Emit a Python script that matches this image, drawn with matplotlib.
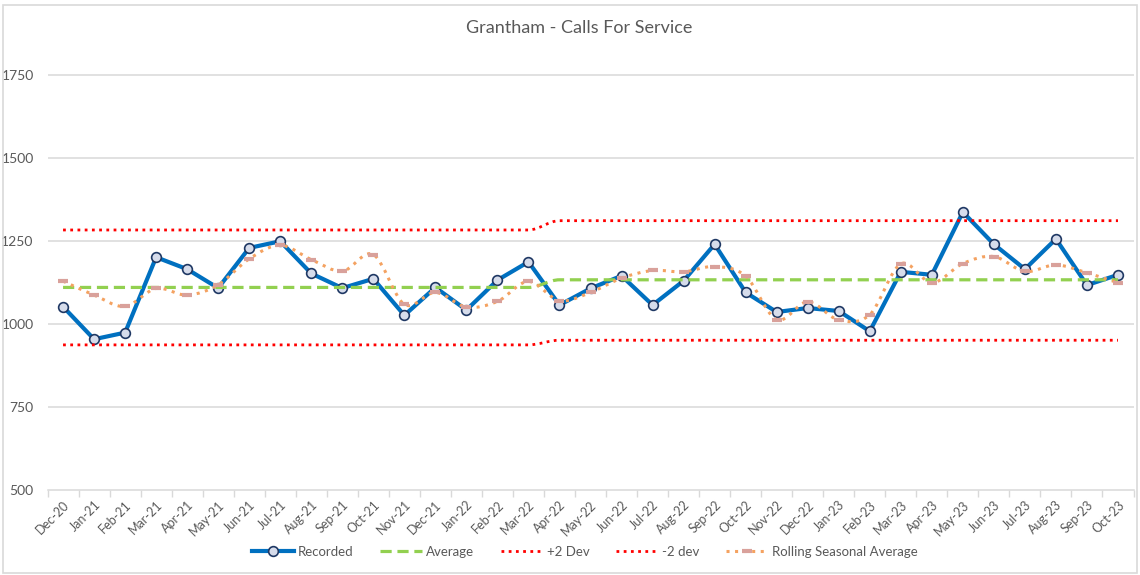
import matplotlib
matplotlib.use("Agg")
import matplotlib.pyplot as plt
import numpy as np
from matplotlib.path import Path
from matplotlib.patches import PathPatch, Rectangle
from matplotlib.lines import Line2D

plt.rcParams['font.family'] = ['Lato', 'DejaVu Sans']

months = ["Dec-20", "Jan-21", "Feb-21", "Mar-21", "Apr-21", "May-21", "Jun-21", "Jul-21",
          "Aug-21", "Sep-21", "Oct-21", "Nov-21", "Dec-21", "Jan-22", "Feb-22", "Mar-22",
          "Apr-22", "May-22", "Jun-22", "Jul-22", "Aug-22", "Sep-22", "Oct-22", "Nov-22",
          "Dec-22", "Jan-23", "Feb-23", "Mar-23", "Apr-23", "May-23", "Jun-23", "Jul-23",
          "Aug-23", "Sep-23", "Oct-23"]

recorded = [1052, 954, 974, 1201, 1165, 1108, 1229, 1249, 1152, 1108, 1136, 1026,
            1110, 1042, 1132, 1187, 1057, 1107, 1145, 1057, 1130, 1240, 1095, 1036,
            1048, 1039, 978, 1157, 1148, 1337, 1240, 1165, 1256, 1117, 1148]

average = [1110] * 16 + [1133] * 19
plus2 = [1283] * 16 + [1311] * 19
minus2 = [937] * 16 + [951] * 19

rolling = [1129, 1087, 1053, 1107, 1087, 1118, 1196, 1237, 1194, 1159, 1209, 1059,
           1095, 1051, 1068, 1128, 1070, 1095, 1138, 1161, 1157, 1173, 1144, 1013,
           1067, 1012, 1028, 1181, 1124, 1182, 1203, 1158, 1178, 1154, 1124]

yticks = [500, 750, 1000, 1250, 1500, 1750]


def smooth_path(xs, ys, monotone=False):
    xs = np.asarray(xs, float)
    ys = np.asarray(ys, float)
    n = len(xs)
    # tangents (per unit x)
    m = np.zeros(n)
    for i in range(n):
        a = max(i - 1, 0)
        b = min(i + 1, n - 1)
        m[i] = (ys[b] - ys[a]) / (xs[b] - xs[a])
        if monotone and 0 < i < n - 1:
            d0 = ys[i] - ys[i - 1]
            d1 = ys[i + 1] - ys[i]
            if d0 * d1 <= 0:
                m[i] = 0.0
    verts = [(xs[0], ys[0])]
    codes = [Path.MOVETO]
    for i in range(n - 1):
        h = xs[i + 1] - xs[i]
        c1 = (xs[i] + h / 3, ys[i] + m[i] * h / 3)
        c2 = (xs[i + 1] - h / 3, ys[i + 1] - m[i + 1] * h / 3)
        verts += [c1, c2, (xs[i + 1], ys[i + 1])]
        codes += [Path.CURVE4] * 3
    return Path(verts, codes)


fig = plt.figure(figsize=(11.4, 5.75), dpi=100)
fig.patches.append(Rectangle((0.003, 0.004), 0.994, 0.988, transform=fig.transFigure,
                             fill=False, edgecolor='#d9d9d9', linewidth=1.2))
ax = fig.add_axes([0.0417, 0.1478, 0.9526, 0.7826])

x = np.arange(len(months))
ax.set_xlim(-0.5, len(months) - 0.5)
ax.set_ylim(500, 1855)

for yt in yticks[1:]:
    ax.axhline(yt, color='#d9d9d9', linewidth=1.1, zorder=0)

# Recorded
ax.plot(x, recorded, color='#0070C0', linewidth=3.0, marker='o', markersize=7,
        markerfacecolor='#D6DCEB', markeredgecolor='#1F3864', markeredgewidth=1.2,
        zorder=3, solid_joinstyle='round')

# Average
ax.add_patch(PathPatch(smooth_path(x, average, True), fill=False, edgecolor='#92D050',
                       linewidth=2.3, linestyle=(0, (3.5, 1.8)), zorder=4))
# +2 / -2 Dev
ax.add_patch(PathPatch(smooth_path(x, plus2, True), fill=False, edgecolor='#FF0000',
                       linewidth=2.0, linestyle=(0, (1, 1.6)), zorder=4))
ax.add_patch(PathPatch(smooth_path(x, minus2, True), fill=False, edgecolor='#FF0000',
                       linewidth=2.0, linestyle=(0, (1, 1.6)), zorder=4))
# Rolling seasonal average
ax.add_patch(PathPatch(smooth_path(x, rolling), fill=False, edgecolor='#F4A261',
                       linewidth=2.2, linestyle=(0, (1, 1.8)), zorder=5))
ax.plot(x, rolling, linestyle='none', marker='_', markersize=7, markeredgewidth=3.0,
        color='#D9A19B', zorder=6)

ax.set_yticks(yticks)
ax.set_yticklabels([str(v) for v in yticks])
ax.set_xticks(x)
ax.set_xticklabels(months, rotation=45, ha='right', rotation_mode='anchor')
ax.tick_params(axis='y', length=0, labelsize=10, labelcolor='#595959', pad=10)
ax.tick_params(axis='x', length=0, labelsize=9, labelcolor='#595959', pad=6)
ax.set_xticks(np.arange(-0.5, len(months), 1.0), minor=True)
ax.tick_params(axis='x', which='minor', length=5, color='#d9d9d9', width=1)

for s in ['top', 'right', 'left']:
    ax.spines[s].set_visible(False)
ax.spines['bottom'].set_color('#d9d9d9')
ax.spines['bottom'].set_linewidth(1.1)

fig.text(0.508, 0.952, "Grantham - Calls For Service", ha='center', va='center',
         fontsize=13, color='#595959')

handles = [
    Line2D([], [], color='#0070C0', linewidth=3.0, marker='o', markersize=7,
           markerfacecolor='#D6DCEB', markeredgecolor='#1F3864', markeredgewidth=1.2),
    Line2D([], [], color='#92D050', linewidth=2.3, linestyle=(0, (3.5, 1.8))),
    Line2D([], [], color='#FF0000', linewidth=2.0, linestyle=(0, (1, 1.6))),
    Line2D([], [], color='#FF0000', linewidth=2.0, linestyle=(0, (1, 1.6))),
    Line2D([], [], color='#F4A261', linewidth=2.2, linestyle=(0, (1, 1.8)), marker='_',
           markersize=7, markeredgewidth=3.0, markeredgecolor='#D9A19B'),
]
labels = ["Recorded", "Average", "+2 Dev", "-2 dev", "Rolling Seasonal Average"]
leg = fig.legend(handles, labels, loc='center', bbox_to_anchor=(0.513, 0.04), ncol=5,
                 frameon=False, fontsize=9.5, handlelength=3.2, columnspacing=2.0,
                 handletextpad=0.3)
for t in leg.get_texts():
    t.set_color('#595959')

fig.savefig("out.png", dpi=100)
